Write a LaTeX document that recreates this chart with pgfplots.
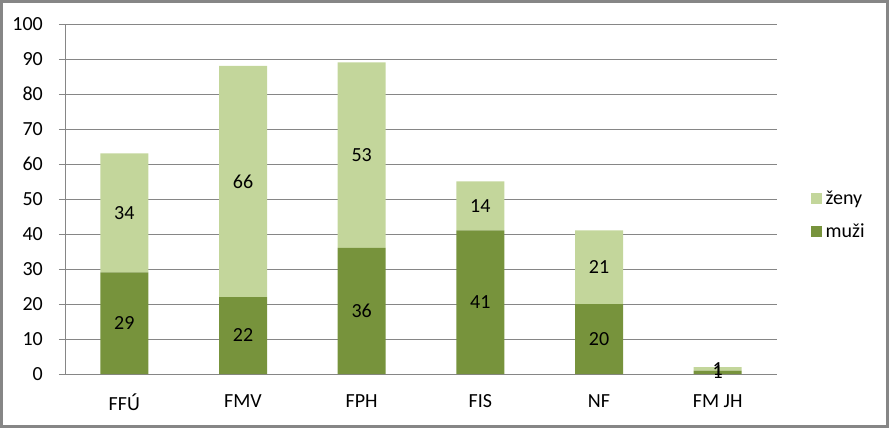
\documentclass[border=0pt]{standalone}
\usepackage{fontspec}
\setmainfont{Carlito}
\usepackage{pgfplots}
\pgfplotsset{compat=1.18}

\definecolor{muzi}{HTML}{77933C}
\definecolor{zeny}{HTML}{C3D69B}
\definecolor{gridgray}{HTML}{868686}

\pgfplotstableread{
x muzi zeny
0 29 34
1 22 66
2 36 53
3 41 14
4 20 21
5 1  1
}\stavy

% label positions: middle of each segment
\pgfplotstableread{
x y v
0 14.5 29
1 11   22
2 18   36
3 20.5 41
4 10   20
5 0.5  1
0 46   34
1 55   66
2 62.5 53
3 48   14
4 30.5 21
5 1.5  1
}\popisky

\begin{document}
\begin{tikzpicture}[font=\fontsize{20bp}{23bp}\selectfont]
\path[use as bounding box] (-65bp,-54bp) rectangle (824bp,374bp);
\begin{axis}[
  at={(0,0)}, anchor=south west,
  scale only axis,
  width=712bp, height=350bp,
  ybar stacked, bar width=48bp,
  xmin=-0.5, xmax=5.5,
  ymin=0, ymax=100,
  ytick={0,10,...,100},
  xtick={0,...,5},
  xticklabels={FFÚ,FMV,FPH,FIS,NF,FM JH},
  minor xtick={-0.5,0.5,...,5.5},
  axis x line*=bottom, axis y line*=left,
  axis line style={gridgray, line width=0.8bp},
  ymajorgrids, grid style={gridgray, line width=0.8bp},
  tick align=outside,
  major tick length=6bp, minor tick length=6bp,
  xtick style={draw=none},
  minor tick style={gridgray, line width=0.8bp},
  ytick style={gridgray, line width=0.8bp},
  /pgf/number format/assume math mode=true,
  yticklabel style={anchor=east, inner sep=0pt, xshift=-16bp},
  xticklabel style={anchor=north, inner sep=0pt, yshift=-14bp},
  reverse legend,
  legend image code/.code={\fill[#1] (0bp,-5.5bp) rectangle (11bp,5.5bp); \path (14bp,0bp);},
  legend style={at={(1.047,0.454)}, anchor=west, draw=none, fill=none,
    row sep=16bp, inner sep=0pt, nodes={inner sep=1bp}},
  legend cell align=left,
]
\addplot[fill=muzi, draw=none] table[x=x, y=muzi] {\stavy};
\addlegendentry{muži}
\addplot[fill=zeny, draw=none] table[x=x, y=zeny] {\stavy};
\addlegendentry{ženy}
\end{axis}
\begin{axis}[
  at={(0,0)}, anchor=south west,
  scale only axis,
  width=712bp, height=350bp,
  xmin=-0.5, xmax=5.5,
  ymin=0, ymax=100,
  hide axis,
]
\addplot[only marks, mark=none, point meta=explicit symbolic,
  nodes near coords, every node near coord/.style={anchor=center, inner sep=0pt}]
  table[x=x, y=y, meta=v] {\popisky};
\end{axis}
\draw[gridgray, line width=3bp] (-63.5bp,-52.5bp) rectangle (822.5bp,372.5bp);
\end{tikzpicture}
\end{document}
